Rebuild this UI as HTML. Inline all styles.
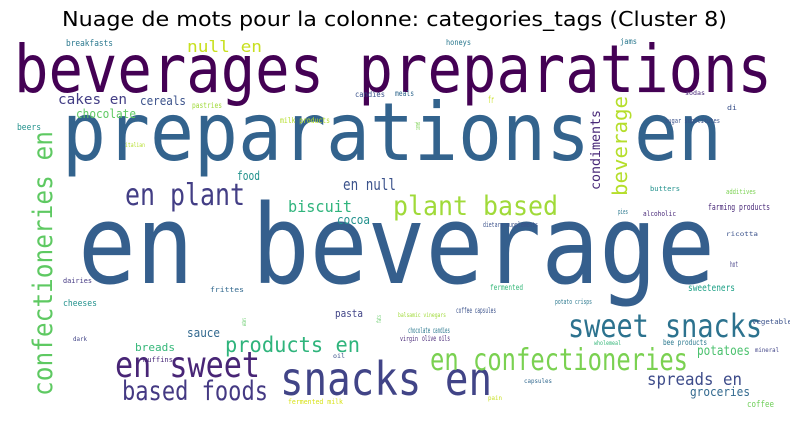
<!DOCTYPE html>
<html><head><meta charset="utf-8"><style>
html,body{margin:0;padding:0;background:#fff;width:790px;height:429px;overflow:hidden}
svg text{font-family:"DejaVu Sans Mono","Liberation Mono",monospace}
</style></head><body>
<svg id="cloud" width="790" height="429" viewBox="0 0 790 429" xmlns="http://www.w3.org/2000/svg">
<text x="62" y="26" font-size="20.5" textLength="665" lengthAdjust="spacingAndGlyphs" style="font-family:'DejaVu Sans','Liberation Sans',sans-serif" fill="#000">Nuage de mots pour la colonne: categories_tags (Cluster 8)</text>
<g id="words"></g>
</svg>
<script>
// word, font size (weight), colour
const words = ["beverages preparations","preparations en","en beverage","snacks en","en sweet","based foods","sweet snacks","en confectioneries","confectioneries en","plant based","en plant","products en","spreads en","groceries","potatoes","beverage","condiments","biscuit","en null","cocoa","null en","cakes en","cereals","chocolate","breakfasts","food","pasta","sauce","breads","cheeses","honeys","meals","fr","beers","sweeteners","bee products","coffee","farming products","hot","jams","candies","pastries","milk products","chocolate candies","coffee capsules","olive oils","fermented","potato crisps","vegetable","frittes","dairies","muffins","fermented milk","sugar substitutes","butters","additives","alcoholic","pies","dietary supplements","ricotta","balsamic vinegars","virgin","wholemeal","dark","italian","di","canned","mineral","capsules","pain","oil","fats","waters","sodas"];
const sizes = [66,80,110,46,36,27,32,30,27,27,30,21,17,12,13,20,13,16,16,12,16,14,12,12,9,12,11,12,11,9,8,8,10,9,10,8,9,9,8,8,8,8,8,8,8,8,8,7,7,7,7,7,7,7,7,7,7,7,7,6,6,7,6,6,6,7,7,6,6,6,6,6,6,6];
const colors = ["#440154","#33638d","#355f8d","#414487","#482576","#443983","#2c728e","#7ad151","#5ec962","#a0da39","#433e85","#2fb47c","#3e4c8a","#31688e","#4ac16d","#b5de2b","#482878","#2fb47c","#3b528b","#21918c","#c8e020","#433e85","#3b528b","#5ec962","#2a788e","#21918c","#414487","#31688e","#35b779","#21918c","#2a788e","#31688e","#c8e020","#21918c","#1fa187","#2a788e","#6ece58","#482878","#433e85","#2a788e","#3b528b","#a0da39","#b5de2b","#2a788e","#3b528b","#482878","#35b779","#2a788e","#3b528b","#31688e","#443983","#482878","#d8e219","#3b528b","#21918c","#7ad151","#482878","#2a788e","#3b528b","#3b528b","#a0da39","#482878","#35b779","#414487","#b5de2b","#3b528b","#7ad151","#414487","#31688e","#c8e020","#3b528b","#5ec962","#5ec962","#482878"];
// layout: x, baseline y, width, rotated
const layout = [[14,92,758,0],[62,160,660,0],[78,283,637,0],[280,395,212,0],[115,377,145,0],[122,400,146,0],[568,337,194,0],[430,370,258,0],[52,396,265,1],[393,215,165,0],[125,205,120,0],[225,352,135,0],[647,385,95,0],[690,396,60,0],[697,355,53,0],[627,196,100,1],[600,190,80,1],[288,212,64,0],[343,190,53,0],[337,224,33,0],[187,52,75,0],[58,104,69,0],[140,105,46,0],[76,118,60,0],[66,46,47,0],[237,180,23,0],[335,317,28,0],[187,337,33,0],[135,351,40,0],[63,306,34,0],[446,45,25,0],[395,96,19,0],[488,103,6,0],[17,130,24,0],[688,291,47,0],[663,345,44,0],[747,407,27,0],[708,210,62,0],[730,267,8,0],[620,44,17,0],[355,97,30,0],[192,108,30,0],[280,123,50,0],[408,333,42,0],[456,313,40,0],[422,341,28,0],[490,290,33,0],[555,304,37,0],[752,324,40,0],[210,292,34,0],[63,283,29,0],[143,362,30,0],[288,404,55,0],[665,123,55,0],[650,191,30,0],[726,194,30,0],[643,216,33,0],[618,214,10,0],[483,227,55,0],[726,236,32,0],[398,317,48,0],[400,341,18,0],[594,345,27,0],[73,341,14,0],[125,147,20,0],[727,110,10,0],[420,130,8,1],[755,352,24,0],[524,383,28,0],[488,400,14,0],[333,358,12,0],[381,323,8,1],[246,326,8,1],[685,95,20,0]];
const g = document.getElementById('words');
const NS = 'http://www.w3.org/2000/svg';
for (let i = 0; i < words.length; i++) {
  const [x, y, w, rot] = layout[i];
  const t = document.createElementNS(NS, 'text');
  
  
  t.setAttribute('font-size', sizes[i]);
  t.setAttribute('fill', colors[i]);
  t.setAttribute('textLength', w);
  t.setAttribute('lengthAdjust', 'spacingAndGlyphs');
  if (rot) {
    t.setAttribute('x', 0); t.setAttribute('y', 0);
    t.setAttribute('transform', 'translate(' + x + ',' + y + ') rotate(-90)');
  } else {
    t.setAttribute('x', x); t.setAttribute('y', y);
  }
  t.textContent = words[i];
  g.appendChild(t);
}
</script>
</body></html>
